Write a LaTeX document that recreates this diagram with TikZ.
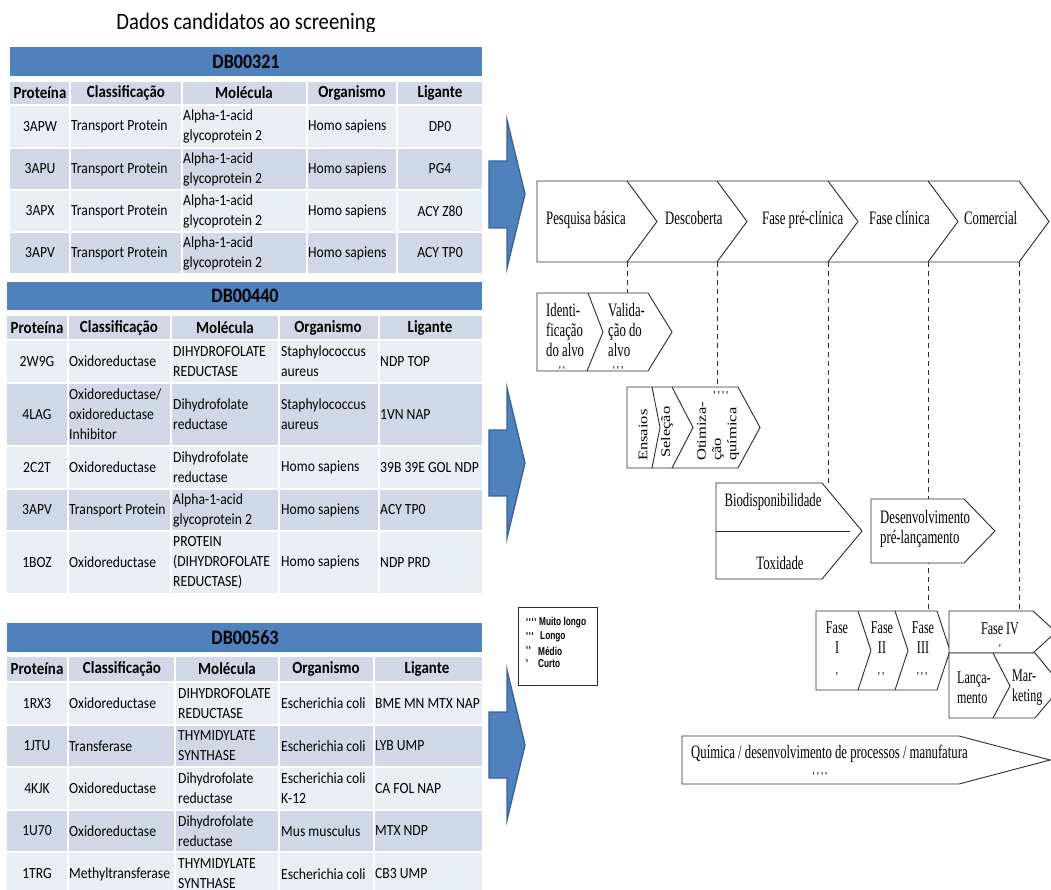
\documentclass[tikz,border=0pt]{standalone}
\usepackage{graphicx}
\usepackage{fontspec}
\setmainfont{Liberation Serif}
\newfontfamily\tabfont{Carlito}[FakeStretch=0.88]
\newfontfamily\serfont{Liberation Serif}[FakeStretch=0.67]
\newfontfamily\rotfont{Liberation Serif}
\newfontfamily\legfont{Liberation Sans}[FakeStretch=0.72]

\definecolor{barblue}{HTML}{4F81BD}
\definecolor{rowdark}{HTML}{D0D8E8}
\definecolor{rowlight}{HTML}{E9EDF4}
\definecolor{arrowedge}{HTML}{3B6596}
\definecolor{ink}{HTML}{2B2B2B}

\newcommand\tk{\textquotesingle}

% one data row of a table: name, y, id, class, molecule, organism, ligand
\newcommand\datarow[7]{%
  \node[cellc] (#1-id) at (\colA,#2) {#3};
  \node[celll] (#1-cls) at (\colB,#2) {#4};
  \node[celll] (#1-mol) at (\colC,#2) {#5};
  \node[celll] (#1-org) at (\colD,#2) {#6};
  \node[\ligstyle] (#1-lig) at (\colE,#2) {#7};
}

\tikzset{
  dbname/.style={font={\tabfont\bfseries\fontsize{20.5}{24}\selectfont}, inner sep=0pt},
  colhead/.style={font={\tabfont\bfseries\fontsize{17}{20}\selectfont}, inner sep=0pt},
  cellc/.style={font={\tabfont\fontsize{15.5}{20}\selectfont}, inner sep=0pt},
  celll/.style={cellc, anchor=west, align=left},
  bigarrow/.style={fill=barblue, draw=arrowedge, line width=1.4pt, line join=miter},
  stage/.style={draw=ink, fill=white, line width=0.9pt, line join=miter},
  divider/.style={draw=ink, line width=0.9pt, line join=miter},
  guide/.style={draw=ink, line width=0.8pt, dash pattern=on 5pt off 4pt},
  lbl/.style={font={\serfont\fontsize{19}{20}\selectfont}, inner sep=0pt},
  lbll/.style={lbl, align=left},
  fase/.style={font={\serfont\fontsize{18}{20}\selectfont}, inner sep=0pt, align=center},
  dur/.style={font={\rotfont\fontsize{12}{12}\selectfont}, inner sep=0pt},
  vlbl/.style={rotate=90, anchor=west, inner sep=0pt},
  legtxt/.style={font={\legfont\bfseries\fontsize{11.5}{12}\selectfont}, inner sep=0pt, anchor=west},
}

\begin{document}
\begin{tikzpicture}[x=1pt,y=-1pt]
\useasboundingbox (0,0) rectangle (1051,890);
\clip (0,0) rectangle (1051,890);
\fill[white] (0,0) rectangle (1051,890);

% ---------- title ----------
\begin{scope}
  \clip (0,0) rectangle (1051,32);
  \node[font={\tabfont\fontsize{23.5}{28}\selectfont}, anchor=base, inner sep=0pt] (title) at (246,30) {Dados candidatos ao screening};
\end{scope}

% ---------- table DB00321 ----------
\fill[barblue] (10,47) rectangle (482,76);
\node[dbname] (db1) at (246,62) {DB00321};
\foreach \ya/\yb/\c in {82/104/rowdark,106/147/rowlight,149/189/rowdark,191/231/rowlight,233/273/rowdark}
  \foreach \xa/\xb in {10/69,71/181,183/306,308/396,398/482}
    \fill[\c] (\xa,\ya) rectangle (\xb,\yb);
\node[colhead] (t1h1) at (40,93) {Proteína};
\node[colhead] (t1h2) at (126,93) {Classificação};
\node[colhead] (t1h3) at (244,93) {Molécula};
\node[colhead] (t1h4) at (352,93) {Organismo};
\node[colhead] (t1h5) at (440,93) {Ligante};
\def\colA{40}\def\colB{71}\def\colC{183}\def\colD{308}\def\colE{440}\def\ligstyle{cellc}
\datarow{t1r1}{126.5}{3APW}{Transport Protein}{Alpha-1-acid\\glycoprotein 2}{Homo sapiens}{DP0}
\datarow{t1r2}{169}{3APU}{Transport Protein}{Alpha-1-acid\\glycoprotein 2}{Homo sapiens}{PG4}
\datarow{t1r3}{211}{3APX}{Transport Protein}{Alpha-1-acid\\glycoprotein 2}{Homo sapiens}{ACY Z80}
\datarow{t1r4}{253}{3APV}{Transport Protein}{Alpha-1-acid\\glycoprotein 2}{Homo sapiens}{ACY TP0}

% ---------- table DB00440 ----------
\fill[barblue] (7,282) rectangle (482,310);
\node[dbname] (db2) at (245,296) {DB00440};
\foreach \ya/\yb/\c in {316/339/rowdark,341/382/rowlight,384/445/rowdark,447/488/rowlight,490/530/rowdark,532/593/rowlight}
  \foreach \xa/\xb in {7/67,69/170,172/278,280/378,380/482}
    \fill[\c] (\xa,\ya) rectangle (\xb,\yb);
\node[colhead] (t2h1) at (37,327.5) {Proteína};
\node[colhead] (t2h2) at (119,327.5) {Classificação};
\node[colhead] (t2h3) at (225,327.5) {Molécula};
\node[colhead] (t2h4) at (328,327.5) {Organismo};
\node[colhead] (t2h5) at (430,327.5) {Ligante};
\def\colA{37}\def\colB{69}\def\colC{173}\def\colD{281}\def\colE{380}\def\ligstyle{celll}
\datarow{t2r1}{361.5}{2W9G}{Oxidoreductase}{DIHYDROFOLATE\\REDUCTASE}{Staphylococcus\\aureus}{NDP TOP}
\datarow{t2r2}{414.5}{4LAG}{Oxidoreductase/\\oxidoreductase\\Inhibitor}{Dihydrofolate\\reductase}{Staphylococcus\\aureus}{1VN NAP}
\datarow{t2r3}{467.5}{2C2T}{Oxidoreductase}{Dihydrofolate\\reductase}{Homo sapiens}{39B 39E GOL NDP}
\datarow{t2r4}{510}{3APV}{Transport Protein}{Alpha-1-acid\\glycoprotein 2}{Homo sapiens}{ACY TP0}
\datarow{t2r5}{562.5}{1BOZ}{Oxidoreductase}{PROTEIN\\(DIHYDROFOLATE\\REDUCTASE)}{Homo sapiens}{NDP PRD}

% ---------- table DB00563 ----------
\fill[barblue] (7,623) rectangle (482,652);
\node[dbname] (db3) at (245,638) {DB00563};
\foreach \ya/\yb/\c in {657/681/rowdark,683/724/rowlight,726/766/rowdark,768/809/rowlight,811/851/rowdark,853/900/rowlight}
  \foreach \xa/\xb in {7/67,69/174,176/278,280/373,375/482}
    \fill[\c] (\xa,\ya) rectangle (\xb,\yb);
\node[colhead] (t3h1) at (37,669) {Proteína};
\node[colhead] (t3h2) at (122,669) {Classificação};
\node[colhead] (t3h3) at (227,669) {Molécula};
\node[colhead] (t3h4) at (326,669) {Organismo};
\node[colhead] (t3h5) at (427,669) {Ligante};
\def\colA{37}\def\colB{69}\def\colC{178}\def\colD{281}\def\colE{375}\def\ligstyle{celll}
\datarow{t3r1}{703.5}{1RX3}{Oxidoreductase}{DIHYDROFOLATE\\REDUCTASE}{Escherichia coli}{BME MN MTX NAP}
\datarow{t3r2}{746}{1JTU}{Transferase}{THYMIDYLATE\\SYNTHASE}{Escherichia coli}{LYB UMP}
\datarow{t3r3}{788.5}{4KJK}{Oxidoreductase}{Dihydrofolate\\reductase}{Escherichia coli\\K-12}{CA FOL NAP}
\datarow{t3r4}{831}{1U70}{Oxidoreductase}{Dihydrofolate\\reductase}{Mus musculus}{MTX NDP}
\datarow{t3r5}{874}{1TRG}{Methyltransferase}{THYMIDYLATE\\SYNTHASE}{Escherichia coli}{CB3 UMP}

% ---------- block arrows ----------
\draw[bigarrow] (489,161) -- (507,161) -- (507,120) -- (525,194) -- (507,268) -- (507,228) -- (489,228) -- cycle;
\draw[bigarrow] (489,430) -- (507,430) -- (507,388) -- (525,463) -- (507,538) -- (507,496) -- (489,496) -- cycle;
\draw[bigarrow] (489,712) -- (507,712) -- (507,670) -- (525,745) -- (507,820) -- (507,778) -- (489,778) -- cycle;

% ---------- dashed guides from the stage row ----------
\coordinate (g1a) at (627,262); \coordinate (g1b) at (627,293);
\coordinate (g2a) at (717,262); \coordinate (g2b) at (717,387);
\coordinate (g3a) at (828,262); \coordinate (g3b) at (828,483);
\coordinate (g4a) at (928,262); \coordinate (g4b) at (928,611);
\coordinate (g5a) at (1019,262); \coordinate (g5b) at (1019,611);
\foreach \g in {1,...,5} \draw[guide] (g\g a) -- (g\g b);

% ---------- stage row ----------
\draw[stage] (537,181) -- (1019,181) -- (1049,221.5) -- (1019,262) -- (537,262) -- cycle;
\foreach \x in {627,717,828,928}
  \draw[divider] (\x,181) -- ({\x+30},221.5) -- (\x,262);
\node[lbl, anchor=base west] (s1) at (546,225) {Pesquisa básica};
\node[lbl, anchor=base west] (s2) at (665,225) {Descoberta};
\node[lbl, anchor=base west] (s3) at (762,225) {Fase pré-clínica};
\node[lbl, anchor=base west] (s4) at (869,225) {Fase clínica};
\node[lbl, anchor=base west] (s5) at (964,225) {Comercial};

% ---------- target identification / validation ----------
\draw[stage] (537,293) -- (648,293) -- (672,332) -- (648,371) -- (537,371) -- cycle;
\draw[divider] (588,293) -- (603,332) -- (587,371);
\node[lbll, anchor=west] (ident) at (546,330) {Identi-\\ficação\\do alvo};
\node[dur] (identd) at (562,371) {\tk\,\tk};
\node[lbll, anchor=west] (valid) at (608,330) {Valida-\\ção do\\alvo};
\node[dur] (validd) at (618,371) {\tk\,\tk\,\tk};

% ---------- assays / selection / optimisation ----------
\draw[stage] (627,387) -- (738,387) -- (760,427.5) -- (738,468) -- (627,468) -- cycle;
\draw[divider] (652,387) -- (660,427.5) -- (652,468);
\draw[divider] (672,387) -- (693,427.5) -- (672,468);
\node[vlbl] (ens) at (643,461) {\scalebox{1}[0.8]{\rotfont\fontsize{16.5}{19}\selectfont Ensaios}};
\node[vlbl] (sel) at (667,458) {\scalebox{1}[0.8]{\rotfont\fontsize{16.5}{19}\selectfont Seleção}};
\node[vlbl] (otim) at (718,461) {\scalebox{1}[0.8]{\rotfont\fontsize{16.5}{19}\selectfont\begin{tabular}{@{}l@{}}Otimiza-\\ção\\química\end{tabular}}};
\node[dur] (otimd) at (721,396) {\tk\,\tk\,\tk\,\tk};

% ---------- bioavailability / toxicity ----------
\draw[stage] (716,483) -- (822,483) -- (862,531) -- (822,579) -- (716,579) -- cycle;
\draw[divider] (716,531) -- (850,531);
\node[lbl] (bio) at (773,502) {Biodisponibilidade};
\node[lbl] (tox) at (780,563) {Toxidade};

% ---------- pre-launch development ----------
\draw[stage] (871,499) -- (964,499) -- (995,531) -- (964,563) -- (871,563) -- cycle;
\node[lbll, anchor=west] (dev) at (880,529) {Desenvolvimento\\pré-lançamento};

% ---------- clinical phases ----------
\draw[stage] (816,611) -- (937,611) -- (950,650.5) -- (937,690) -- (816,690) -- cycle;
\draw[divider] (858,611) -- (871,650.5) -- (858,690);
\draw[divider] (895,611) -- (908,650.5) -- (895,690);
\node[fase] (f1) at (837,638) {Fase\\I};
\node[dur] (f1d) at (837,677) {\tk};
\node[fase] (f2) at (882,638) {Fase\\II};
\node[dur] (f2d) at (881,677) {\tk\,\tk};
\node[fase] (f3) at (923,638) {Fase\\III};
\node[dur] (f3d) at (922,677) {\tk\,\tk\,\tk};

\draw[stage] (949,611) -- (1033,611) -- (1056,632) -- (1033,653) -- (949,653) -- cycle;
\node[fase] (f4) at (1000,629) {Fase IV};
\node[dur] (f4d) at (1000,649) {\tk};
\draw[stage] (949,653) -- (1035,653) -- (1062,686) -- (1035,718) -- (949,718) -- cycle;
\draw[divider] (993,653) -- (1010,686) -- (993,718);
\node[fase, anchor=west, align=left] (lanc) at (957,688) {Lança-\\mento};
\node[fase, anchor=west, align=left] (mkt) at (1012,688) {Mar-\\keting};

% ---------- chemistry / process development ----------
\draw[stage] (682,736) -- (959,736) -- (1050,760) -- (959,784) -- (682,784) -- cycle;
\node[lbl, anchor=west] (chem) at (691,754) {Química / desenvolvimento de processos / manufatura};
\node[dur] (chemd) at (820,777) {\tk\,\tk\,\tk\,\tk};

% ---------- duration legend ----------
\draw[draw=ink, line width=1pt] (518,607) rectangle (597,685);
\node[legtxt] (lg1m) at (526,623) {\tk\tk\tk\tk};
\node[legtxt] (lg1) at (539,623) {Muito longo};
\node[legtxt] (lg2m) at (526,637) {\tk\tk\tk};
\node[legtxt] (lg2) at (540,637) {Longo};
\node[legtxt] (lg3m) at (526,651) {\tk\tk};
\node[legtxt] (lg3) at (538,651) {Médio};
\node[legtxt] (lg4m) at (526,664) {\tk};
\node[legtxt] (lg4) at (538,664) {Curto};
\end{tikzpicture}
\end{document}
